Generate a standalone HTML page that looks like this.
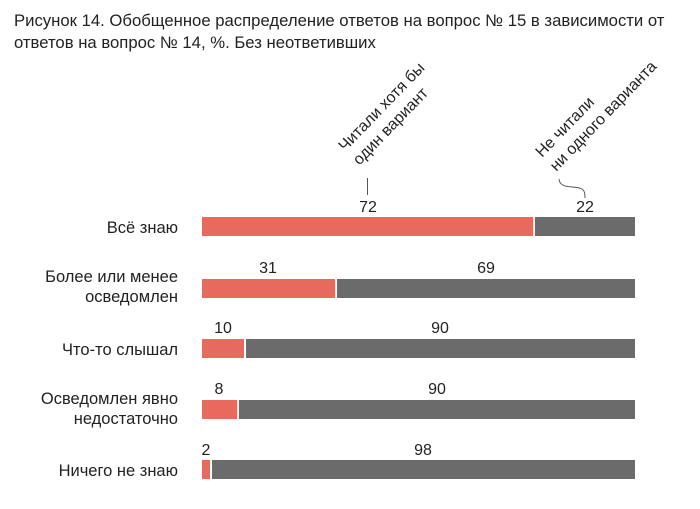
<!DOCTYPE html>
<html><head><meta charset="utf-8"><style>
body{margin:0;background:#fff;}
svg{display:block;font-family:"Liberation Sans","DejaVu Sans",sans-serif;}
</style></head><body>
<svg width="700" height="509" viewBox="0 0 700 509">
<text x="14" y="26" font-size="16.7" fill="#222">Рисунок 14. Обобщенное распределение ответов на вопрос № 15 в зависимости от</text>
<text x="14" y="48" font-size="16.7" fill="#222">ответов на вопрос № 14, %. Без неответивших</text>
<g font-size="16" fill="#222">
<text transform="translate(345,152) rotate(-46)">Читали хотя бы<tspan x="0" dy="20">один вариант</tspan></text>
<text transform="translate(542,158) rotate(-46)">Не читали<tspan x="0" dy="20">ни одного варианта</tspan></text>
</g>
<line x1="367.5" y1="178" x2="367.5" y2="195" stroke="#555" stroke-width="1"/>
<path d="M559 179 C560 190,575 185,582 189 C585 191,585 195,585 198" fill="none" stroke="#555" stroke-width="1"/>
<g font-size="16.5" fill="#222" text-anchor="end">
<text x="178" y="233">Всё знаю</text>
<text x="178" y="282">Более или менее</text>
<text x="178" y="302">осведомлен</text>
<text x="178" y="355">Что-то слышал</text>
<text x="178" y="404">Осведомлен явно</text>
<text x="178" y="424">недостаточно</text>
<text x="178" y="476">Ничего не знаю</text>
</g>
<g>
<rect x="202" y="217" width="331" height="19" fill="#e8695d"/><rect x="535" y="217" width="100" height="19" fill="#6b6b6b"/>
<rect x="202" y="279" width="133" height="19" fill="#e8695d"/><rect x="337" y="279" width="298" height="19" fill="#6b6b6b"/>
<rect x="202" y="339" width="42" height="19" fill="#e8695d"/><rect x="246" y="339" width="389" height="19" fill="#6b6b6b"/>
<rect x="202" y="400" width="35" height="19" fill="#e8695d"/><rect x="239" y="400" width="396" height="19" fill="#6b6b6b"/>
<rect x="202" y="460" width="8" height="19" fill="#e8695d"/><rect x="212" y="460" width="423" height="19" fill="#6b6b6b"/>
</g>
<g font-size="16" fill="#222" text-anchor="middle">
<text x="368" y="212">72</text><text x="585" y="212">22</text>
<text x="268" y="273">31</text><text x="486" y="273">69</text>
<text x="223" y="333">10</text><text x="440" y="333">90</text>
<text x="219" y="394">8</text><text x="437" y="394">90</text>
<text x="206" y="455">2</text><text x="423" y="455">98</text>
</g>
</svg>
</body></html>
